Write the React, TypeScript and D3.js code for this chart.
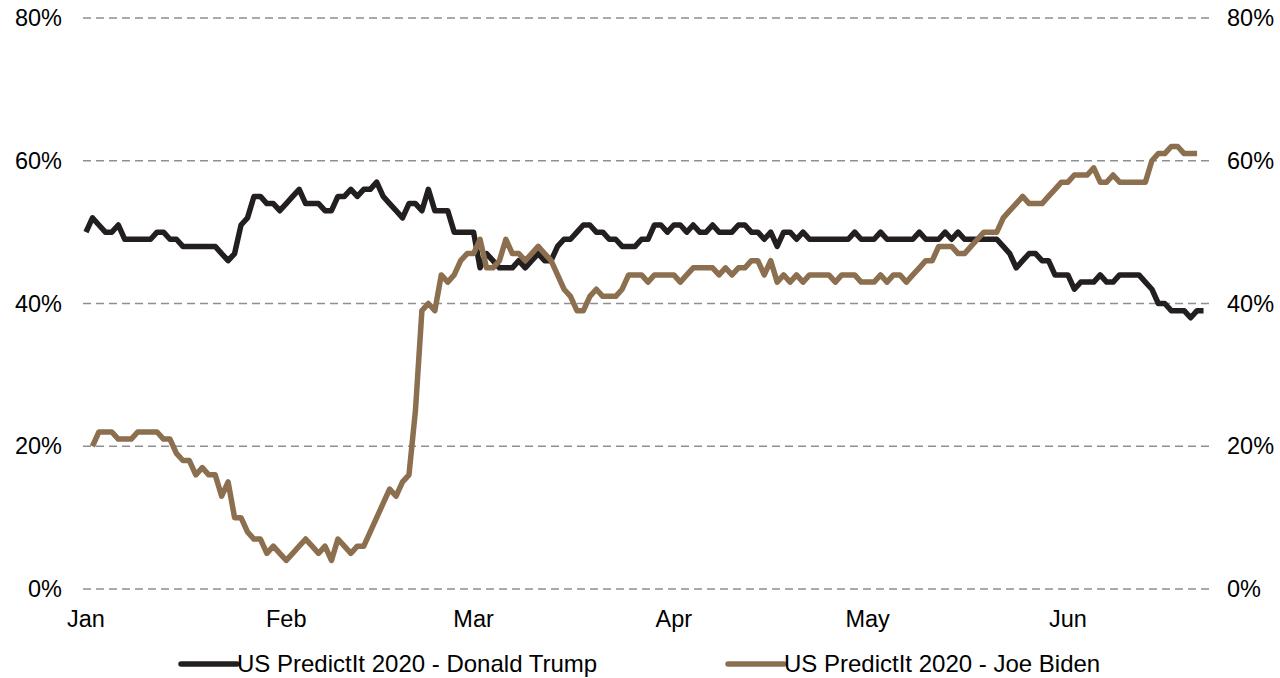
import React from "react";
import * as d3 from "d3";

const startTrump = new Date(2020, 0, 1);
const startBiden = new Date(2020, 0, 2);

const trumpValues = [
  50, 52, 51, 50, 50, 51, 49, 49, 49, 49, 49, 50, 50, 49, 49, 48, 48, 48, 48, 48,
  48, 47, 46, 47, 51, 52, 55, 55, 54, 54, 53, 54, 55, 56, 54, 54, 54, 53, 53, 55,
  55, 56, 55, 56, 56, 57, 55, 54, 53, 52, 54, 54, 53, 56, 53, 53, 53, 50, 50, 50,
  50, 45, 47, 46, 45, 45, 45, 46, 45, 46, 47, 46, 46, 48, 49, 49, 50, 51, 51, 50,
  50, 49, 49, 48, 48, 48, 49, 49, 51, 51, 50, 51, 51, 50, 51, 50, 50, 51, 50, 50,
  50, 51, 51, 50, 50, 49, 50, 48, 50, 50, 49, 50, 49, 49, 49, 49, 49, 49, 49, 50,
  49, 49, 49, 50, 49, 49, 49, 49, 49, 50, 49, 49, 49, 50, 49, 50, 49, 49, 49, 49,
  49, 49, 48, 47, 45, 46, 47, 47, 46, 46, 44, 44, 44, 42, 43, 43, 43, 44, 43, 43,
  44, 44, 44, 44, 43, 42, 40, 40, 39, 39, 39, 38, 39, 39,
];

const bidenValues = [
  20, 22, 22, 22, 21, 21, 21, 22, 22, 22, 22, 21, 21, 19, 18, 18, 16, 17, 16, 16,
  13, 15, 10, 10, 8, 7, 7, 5, 6, 5, 4, 5, 6, 7, 6, 5, 6, 4, 7, 6,
  5, 6, 6, 8, 10, 12, 14, 13, 15, 16, 25, 39, 40, 39, 44, 43, 44, 46, 47, 47,
  49, 45, 45, 46, 49, 47, 47, 46, 47, 48, 47, 46, 44, 42, 41, 39, 39, 41, 42, 41,
  41, 41, 42, 44, 44, 44, 43, 44, 44, 44, 44, 43, 44, 45, 45, 45, 45, 44, 45, 44,
  45, 45, 46, 46, 44, 46, 43, 44, 43, 44, 43, 44, 44, 44, 44, 43, 44, 44, 44, 43,
  43, 43, 44, 43, 44, 44, 43, 44, 45, 46, 46, 48, 48, 48, 47, 47, 48, 49, 50, 50,
  50, 52, 53, 54, 55, 54, 54, 54, 55, 56, 57, 57, 58, 58, 58, 59, 57, 57, 58, 57,
  57, 57, 57, 57, 60, 61, 61, 62, 62, 61, 61, 61,
];

const yTicks = [0, 20, 40, 60, 80];
const monthTicks = [
  new Date(2020, 0, 1),
  new Date(2020, 1, 1),
  new Date(2020, 2, 1),
  new Date(2020, 3, 1),
  new Date(2020, 4, 1),
  new Date(2020, 5, 1),
];
const seriesNames = ["US PredictIt 2020 - Donald Trump", "US PredictIt 2020 - Joe Biden"];
const seriesColors = ["#231f20", "#8b6f4e"];

type Pt = { date: Date; value: number };

function toPoints(start: Date, values: number[]): Pt[] {
  return values.map((v, i) => ({ date: d3.timeDay.offset(start, i), value: v }));
}

export default function App() {
  const width = 1280;
  const height = 678;
  const x = d3
    .scaleTime()
    .domain([new Date(2020, 0, 1), new Date(2020, 5, 23)])
    .range([86, 1210]);
  const y = d3.scaleLinear().domain([0, 80]).range([589, 18]);
  const line = d3
    .line<Pt>()
    .x((d) => x(d.date))
    .y((d) => y(d.value));

  const trump = toPoints(startTrump, trumpValues);
  const biden = toPoints(startBiden, bidenValues);
  const font = "'Liberation Sans', Arial, sans-serif";
  const fmt = d3.timeFormat("%b");

  return (
    <svg
      width={width}
      height={height}
      style={{ position: "absolute", left: 0, top: 0, background: "#fff" }}
      fontFamily={font}
    >
      {yTicks.map((t) => (
        <g key={t}>
          <line
            x1={83}
            x2={1212}
            y1={y(t)}
            y2={y(t)}
            stroke="#8f8f8f"
            strokeWidth={1.5}
            strokeDasharray="8 5"
          />
          <text x={62} y={y(t) + 8} fontSize={23.5} textAnchor="end" fill="#000">
            {t}%
          </text>
          <text x={1227} y={y(t) + 8} fontSize={23.5} textAnchor="start" fill="#000">
            {t}%
          </text>
        </g>
      ))}
      {monthTicks.map((m) => (
        <text key={m.toISOString()} x={x(m)} y={627} fontSize={23.5} textAnchor="middle" fill="#000">
          {fmt(m)}
        </text>
      ))}
      <path d={line(trump) || ""} fill="none" stroke={seriesColors[0]} strokeWidth={5.5} strokeLinejoin="round" />
      <path d={line(biden) || ""} fill="none" stroke={seriesColors[1]} strokeWidth={5.5} strokeLinejoin="round" />
      {seriesNames.map((name, i) => {
        const lx = i === 0 ? 181 : 728;
        return (
          <g key={name}>
            <line x1={lx} x2={lx + 56} y1={664} y2={664} stroke={seriesColors[i]} strokeWidth={5.5} strokeLinecap="round" />
            <text x={lx + 56} y={672} fontSize={24} fill="#000">
              {name}
            </text>
          </g>
        );
      })}
    </svg>
  );
}
